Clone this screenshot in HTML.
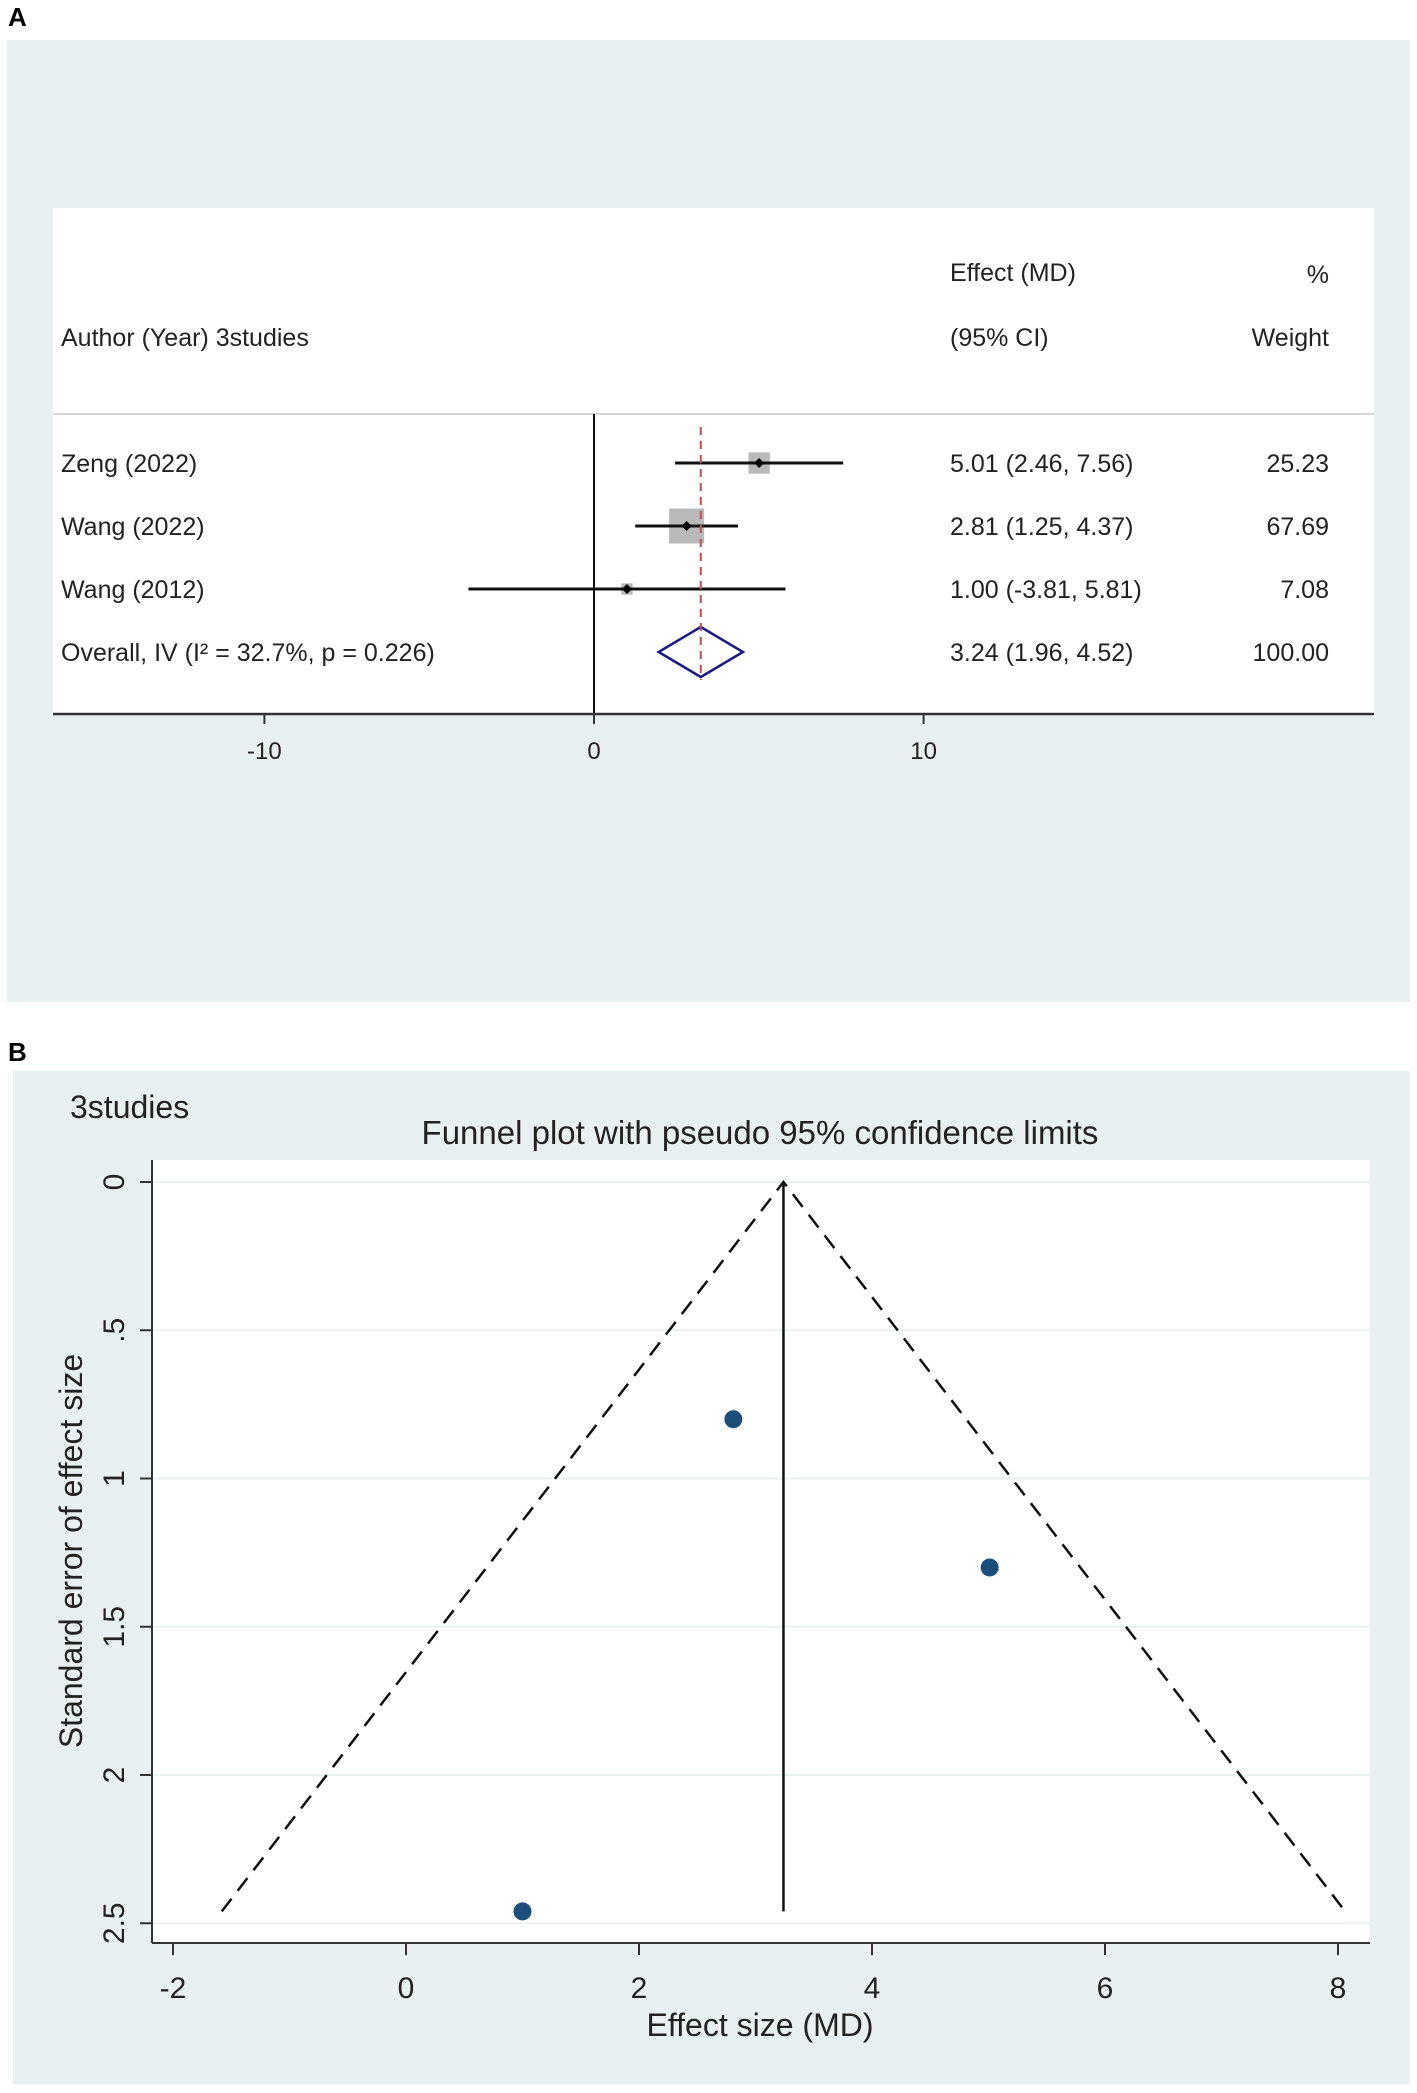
<!DOCTYPE html>
<html><head><meta charset="utf-8"><style>
body{margin:0;width:1417px;height:2093px;background:#fff;overflow:hidden;font-family:"Liberation Sans",Arial,sans-serif}
svg{position:absolute;left:0;top:0}
</style></head><body>
<svg width="1417" height="2093" font-family="Liberation Sans, Arial, sans-serif">
<text x="8" y="26" font-size="26" font-weight="bold">A</text>
<rect x="7" y="40" width="1403" height="962" fill="#e8f0f2"/>
<rect x="53" y="208" width="1321" height="506" fill="#fff"/>
<line x1="53" y1="414" x2="1374" y2="414" stroke="#c8c8c8" stroke-width="1.5"/>
<g font-size="25" fill="#222">
<text x="950" y="281">Effect  (MD)</text>
<text x="1329" y="283" text-anchor="end">%</text>
<text x="61" y="346">Author (Year) 3studies</text>
<text x="950" y="346">(95% CI)</text>
<text x="1329" y="346" text-anchor="end">Weight</text>
</g>
<g id="forest"></g>
<g id="funnel"></g>
<text x="8" y="1061" font-size="26" font-weight="bold">B</text>
</svg>
<script>
const studies=["Zeng (2022)","Wang (2022)","Wang (2012)"];
const effects=[5.01,2.81,1.00];
const lower=[2.46,1.25,-3.81];
const upper=[7.56,4.37,5.81];
const weights=[25.23,67.69,7.08];
const overall=[3.24,1.96,4.52];
const overallLabel="Overall, IV (I² = 32.7%, p = 0.226)";
const forestTicks=[-10,0,10];
const seVals=[1.30,0.80,2.46];
const funnelXTicks=[-2,0,2,4,6,8];
const funnelYTicks=[0,0.5,1,1.5,2,2.5];
const funnelYLabels=["0",".5","1","1.5","2","2.5"];

const NS="http://www.w3.org/2000/svg";
function mk(p,tag,at,txt){const e=document.createElementNS(NS,tag);for(const k in at)e.setAttribute(k,at[k]);if(txt!==undefined)e.textContent=txt;p.appendChild(e);return e;}
// Forest
const F=document.getElementById('forest');
const fx=v=>594+v*32.96;
const rowY=i=>463+i*63;
const sv=document.querySelector('svg');
let e=mk(F,'line',{x1:fx(0),y1:414,x2:fx(0),y2:714,stroke:'#111','stroke-width':2});

e=mk(F,'line',{x1:53,y1:714,x2:1374,y2:714,stroke:'#333','stroke-width':2.5});

forestTicks.forEach(t=>{
 e=mk(F,'line',{x1:fx(t),y1:714,x2:fx(t),y2:724,stroke:'#333','stroke-width':2});
 
 e=mk(F,'text',{x:fx(t),y:759,'text-anchor':'middle','font-size':24,fill:'#222'},String(t));
 
});
studies.forEach((s,i)=>{
 const y=rowY(i),sz=4.25*Math.sqrt(weights[i]);
 e=mk(F,'rect',{x:fx(effects[i])-sz/2,y:y-sz/2,width:sz,height:sz,fill:'#b9b9b9'});
 
 e=mk(F,'line',{x1:fx(lower[i]),y1:y,x2:fx(upper[i]),y2:y,stroke:'#111','stroke-width':3});
 
 e=mk(F,'polygon',{points:`${fx(effects[i])-5},${y} ${fx(effects[i])},${y-5} ${fx(effects[i])+5},${y} ${fx(effects[i])},${y+5}`,fill:'#000'});
 
 e=mk(F,'text',{x:61,y:y+9,'font-size':25,fill:'#222'},s);
 
 e=mk(F,'text',{x:950,y:y+9,'font-size':25,fill:'#222'},`${effects[i].toFixed(2)} (${lower[i].toFixed(2)}, ${upper[i].toFixed(2)})`);
 
 e=mk(F,'text',{x:1329,y:y+9,'font-size':25,fill:'#222','text-anchor':'end'},weights[i].toFixed(2));
 
});
const oy=rowY(3);
e=mk(F,'polygon',{points:`${fx(overall[1])},${oy} ${fx(overall[0])},${oy-25} ${fx(overall[2])},${oy} ${fx(overall[0])},${oy+25}`,fill:'none',stroke:'#1a1a80','stroke-width':2.5});

e=mk(F,'line',{x1:fx(overall[0]),y1:427,x2:fx(overall[0]),y2:680,stroke:'#c0504d','stroke-width':2,'stroke-dasharray':'8,6'});

e=mk(F,'text',{x:61,y:oy+9,'font-size':25,fill:'#222'},overallLabel);

e=mk(F,'text',{x:950,y:oy+9,'font-size':25,fill:'#222'},`${overall[0].toFixed(2)} (${overall[1].toFixed(2)}, ${overall[2].toFixed(2)})`);

e=mk(F,'text',{x:1329,y:oy+9,'font-size':25,fill:'#222','text-anchor':'end'},'100.00');


// Funnel
const G=document.getElementById('funnel');
const gx=v=>173+(v+2)*116.5;
const gy=v=>1182+v*296.5;
e=mk(G,'rect',{x:13,y:1071,width:1397,height:1013,fill:'#e8f0f2'});

e=mk(G,'rect',{x:152,y:1160,width:1218,height:783,fill:'#fff'});

funnelYTicks.forEach((t,i)=>{
 e=mk(G,'line',{x1:152,y1:gy(t),x2:1370,y2:gy(t),stroke:'#eaf1f3','stroke-width':2});
 
 e=mk(G,'line',{x1:140,y1:gy(t),x2:152,y2:gy(t),stroke:'#333','stroke-width':2});
 
 e=mk(G,'text',{x:0,y:0,'font-size':30,fill:'#222','text-anchor':'middle',transform:`translate(124,${gy(t)}) rotate(-90)`},funnelYLabels[i]);
 
});
e=mk(G,'line',{x1:152,y1:1160,x2:152,y2:1943,stroke:'#333','stroke-width':2});

e=mk(G,'line',{x1:152,y1:1943,x2:1370,y2:1943,stroke:'#333','stroke-width':2});

funnelXTicks.forEach(t=>{
 e=mk(G,'line',{x1:gx(t),y1:1943,x2:gx(t),y2:1955,stroke:'#333','stroke-width':2});
 
 e=mk(G,'text',{x:gx(t),y:1998,'font-size':30,fill:'#222','text-anchor':'middle'},String(t));
 
});
const maxSe=Math.max(...seVals);
const c=overall[0];
e=mk(G,'polyline',{points:`${gx(c-1.96*maxSe)},${gy(maxSe)} ${gx(c)},${gy(0)} ${gx(c+1.96*maxSe)},${gy(maxSe)}`,fill:'none',stroke:'#111','stroke-width':2.5,'stroke-dasharray':'16,10'});

e=mk(G,'line',{x1:gx(c),y1:gy(0),x2:gx(c),y2:gy(maxSe),stroke:'#111','stroke-width':2.5});

effects.forEach((v,i)=>{
 e=mk(G,'circle',{cx:gx(v),cy:gy(seVals[i]),r:9,fill:'#1b4f7a'});
 
});
e=mk(G,'text',{x:70,y:1118,'font-size':32,fill:'#222'},'3studies');

e=mk(G,'text',{x:760,y:1144,'font-size':33,fill:'#222','text-anchor':'middle'},'Funnel plot with pseudo 95% confidence limits');

e=mk(G,'text',{x:760,y:2036,'font-size':32,fill:'#222','text-anchor':'middle'},'Effect size (MD)');

e=mk(G,'text',{x:0,y:0,'font-size':32,fill:'#222','text-anchor':'middle',transform:'translate(82,1551) rotate(-90)'},'Standard error of effect size');

</script>
</body></html>
